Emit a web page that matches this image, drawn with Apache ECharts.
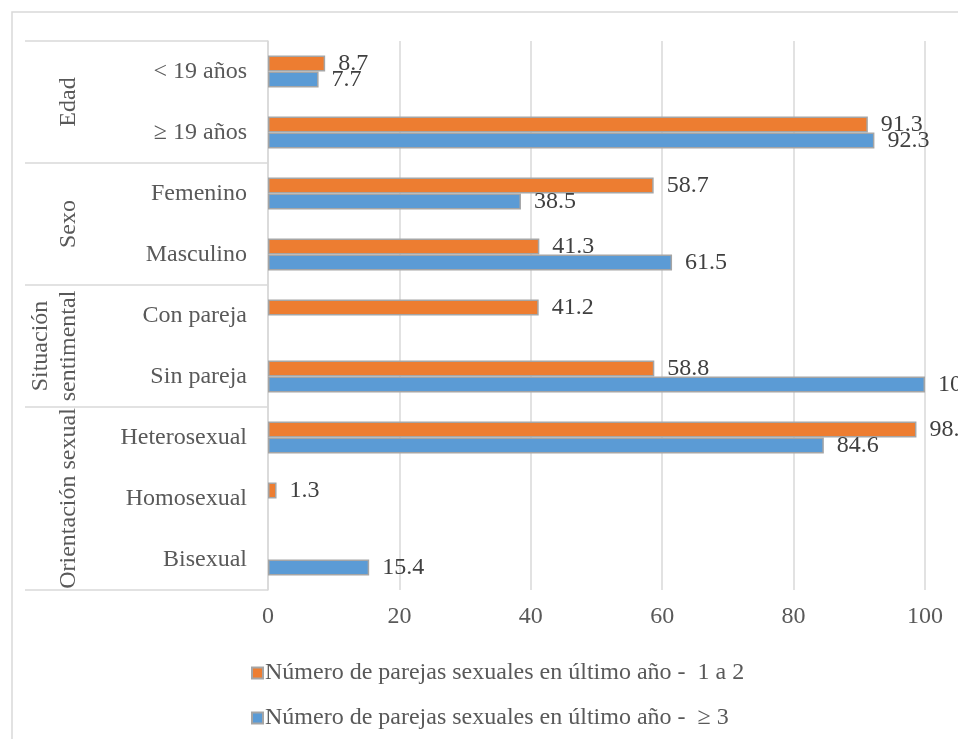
<!DOCTYPE html>
<html>
<head>
<meta charset="utf-8">
<script src="https://cdn.jsdelivr.net/npm/echarts@6/dist/echarts.min.js"></script>
<style>
html,body{margin:0;padding:0;background:#fff;}
#chart{width:958px;height:739px;}
</style>
</head>
<body>
<div id="chart"></div>
<script>
// ---- data ----
var categories = ['< 19 años', '≥ 19 años', 'Femenino', 'Masculino', 'Con pareja', 'Sin pareja', 'Heterosexual', 'Homosexual', 'Bisexual'];
var groupNames = [['Edad'], ['Sexo'], ['Situación', 'sentimental'], ['Orientación sexual']];
var groupSizes = [2, 2, 2, 3];
var seriesNames = ['Número de parejas sexuales en último año -  1 a 2', 'Número de parejas sexuales en último año -  ≥ 3'];
var values12 = [8.7, 91.3, 58.7, 41.3, 41.2, 58.8, 98.7, 1.3, null];
var values3plus = [7.7, 92.3, 38.5, 61.5, null, 100, 84.6, null, 15.4];
var xTicks = [0, 20, 40, 60, 80, 100];

// ---- chart ----
var FONT = '"Liberation Serif","Times New Roman",serif';
var FS = 24;
var chart = echarts.init(document.getElementById('chart'), null, {renderer: 'canvas'});

function lbl() {
  return {
    show: true, position: 'right', distance: 13,
    fontFamily: FONT, fontSize: FS, color: '#404040',
    formatter: function (p) { return p.value == null ? '' : String(p.value); }
  };
}

var option = {
  backgroundColor: '#ffffff',
  animation: false,
  grid: {left: 268, right: 33, top: 41, bottom: 149, containLabel: false},
  xAxis: {
    type: 'value', min: xTicks[0], max: xTicks[xTicks.length - 1], interval: 20,
    axisLine: {show: false}, axisTick: {show: false},
    splitLine: {show: true, lineStyle: {color: '#d9d9d9', width: 1.5}},
    axisLabel: {fontFamily: FONT, fontSize: FS, color: '#595959', margin: 15}
  },
  yAxis: {
    type: 'category', data: categories, inverse: true,
    axisLine: {show: true, lineStyle: {color: '#d9d9d9', width: 1.5}},
    axisTick: {show: false},
    axisLabel: {fontFamily: FONT, fontSize: FS, color: '#595959', margin: 21}
  },
  legend: {
    orient: 'vertical', left: 246, top: 656,
    itemWidth: 11, itemHeight: 11, itemGap: 21, icon: 'rect',
    textStyle: {fontFamily: FONT, fontSize: FS, color: '#595959', lineHeight: 24, padding: [0, 0, 0, -3]},
    data: seriesNames
  },
  series: [
    {
      name: seriesNames[0], type: 'bar', data: values12, z: 2,
      barWidth: 16, barGap: '0%',
      itemStyle: {color: '#ED7D31', borderColor: '#A5A5A5', borderWidth: 1.5},
      label: lbl()
    },
    {
      name: seriesNames[1], type: 'bar', data: values3plus, z: 3,
      barWidth: 16, barGap: '0%',
      itemStyle: {color: '#5B9BD5', borderColor: '#A5A5A5', borderWidth: 1.5},
      label: lbl()
    }
  ]
};
chart.setOption(option);

// ---- multi-level category table (group labels + separators) ----
function yPix(i) { return chart.convertToPixel({yAxisIndex: 0}, i); }
var band = yPix(1) - yPix(0);
var axisX = chart.convertToPixel({xAxisIndex: 0}, 0);
var graphics = [];
var lineStyle = {stroke: '#d9d9d9', lineWidth: 1.5};
// outer chart border
graphics.push({type: 'rect', shape: {x: 12, y: 12, width: 1200, height: 1200}, style: {fill: null, stroke: '#d9d9d9', lineWidth: 1.5}, silent: true, z: 0});
var start = 0;
var topY = yPix(0) - band / 2;
graphics.push({type: 'line', shape: {x1: 25, y1: topY, x2: axisX, y2: topY}, style: lineStyle, silent: true});
for (var g = 0; g < groupSizes.length; g++) {
  var end = start + groupSizes[g] - 1;
  var y0 = yPix(start) - band / 2, y1 = yPix(end) + band / 2;
  graphics.push({type: 'line', shape: {x1: 25, y1: y1, x2: axisX, y2: y1}, style: lineStyle, silent: true});
  var lines = groupNames[g];
  var cy = (y0 + y1) / 2;
  for (var k = 0; k < lines.length; k++) {
    var cx = 69 - (lines.length - 1 - k) * 28;
    graphics.push({
      type: 'text', x: cx, y: cy, rotation: Math.PI / 2, silent: true,
      style: {text: lines[k], font: FS + 'px ' + FONT, fill: '#595959', align: 'center', verticalAlign: 'middle'}
    });
  }
  start = end + 1;
}
chart.setOption({graphic: graphics});
</script>
</body>
</html>
